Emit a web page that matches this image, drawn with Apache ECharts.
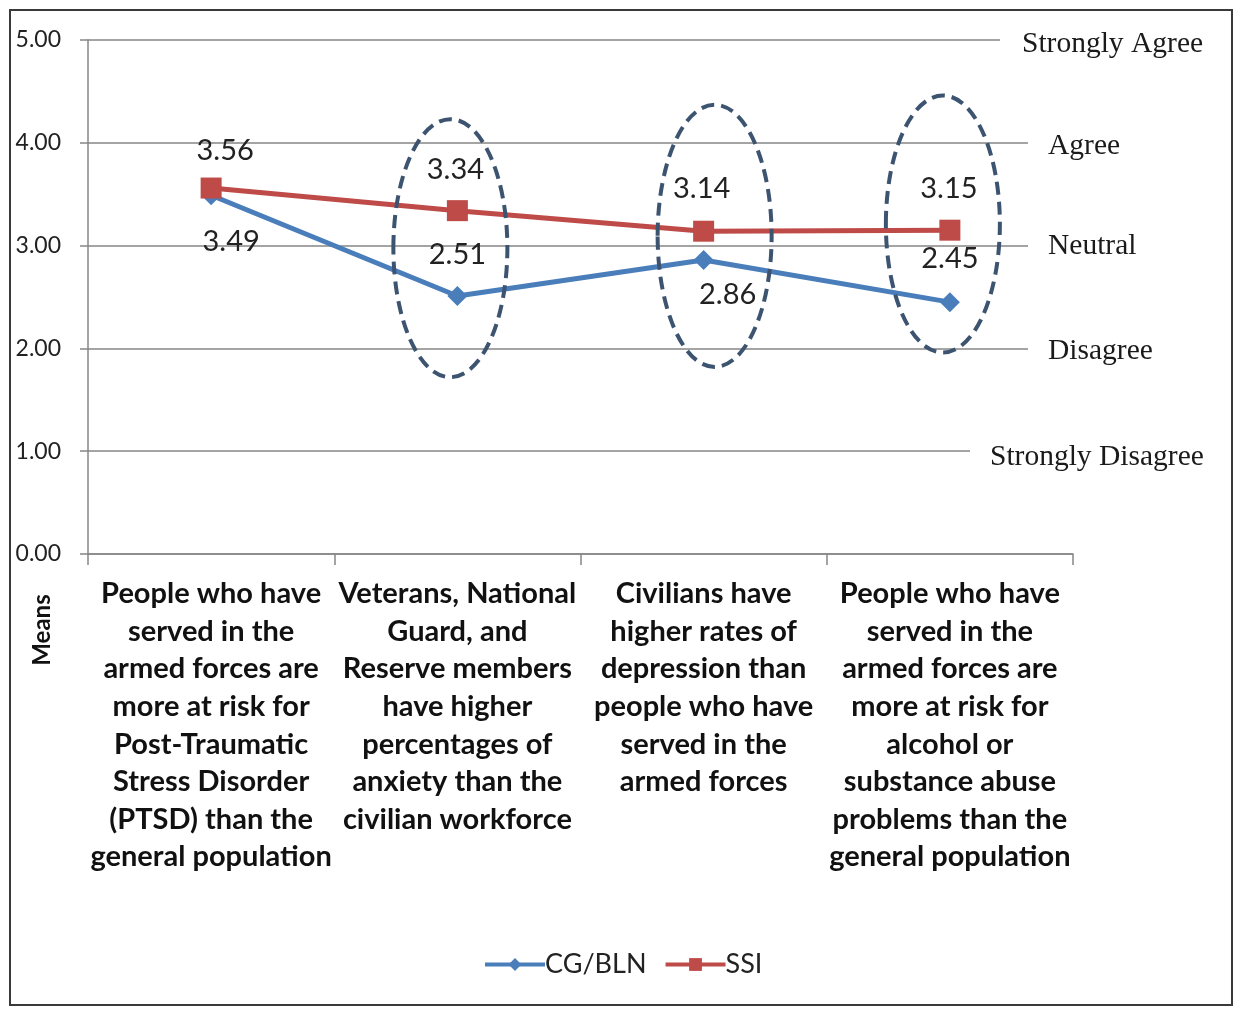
<!DOCTYPE html>
<html><head><meta charset="utf-8">
<script src="https://cdn.jsdelivr.net/npm/echarts@6/dist/echarts.min.js"></script>
<style>html,body{margin:0;padding:0;background:#fff}#c{width:1235px;height:1009px}</style>
</head><body><div id="c"></div>
<script>
const categories = [
  'People who have\nserved in the\narmed forces are\nmore at risk for\nPost-Traumatic\nStress Disorder\n(PTSD) than the\ngeneral population',
  'Veterans, National\nGuard, and\nReserve members\nhave higher\npercentages of\nanxiety than the\ncivilian workforce',
  'Civilians have\nhigher rates of\ndepression than\npeople who have\nserved in the\narmed forces',
  'People who have\nserved in the\narmed forces are\nmore at risk for\nalcohol or\nsubstance abuse\nproblems than the\ngeneral population'
];
const seriesNames = ['CG/BLN', 'SSI'];
const cgBln = [3.49, 2.51, 2.86, 2.45];
const ssi = [3.56, 3.34, 3.14, 3.15];
const yTickValues = [0, 1, 2, 3, 4, 5];
const scaleLabels = ['Strongly Disagree', 'Disagree', 'Neutral', 'Agree', 'Strongly Agree'];
const scaleValues = [1, 2, 3, 4, 5];
const axisName = 'Means';
// highlighted categories (index) with value span of the dashed ellipse
const highlightCats = [1, 2, 3];
const highlightLo = [1.72, 1.82, 1.96];
const highlightHi = [4.23, 4.37, 4.46];

// ---- layout / style (not data) ----
const cgLabelOffset = [[20, 46], [0, -41], [24, 35], [0, -43]];
const ssiLabelOffset = [[14, -37], [-2, -41], [-2, -43], [-1, -42]];
const scaleLineEndX = [970, 1028, 1028, 1028, 1000];
const scaleTextX = [990, 1048, 1048, 1048, 1022];
const scaleTextDy = [6, 3, 1, 3, 4];
const ellipseDx = [-7, 11, -7];
const ellipseRx = 57;

const BLUE = '#4a7ebb', RED = '#be4b48';
const chart = echarts.init(document.getElementById('c'), null, {renderer: 'canvas'});

function mkData(vals, offs) {
  return vals.map((v, i) => ({value: v, label: {offset: offs[i]}}));
}

chart.setOption({
  animation: false,
  backgroundColor: '#fff',
  grid: {left: 88, right: 162, top: 40, bottom: 455, containLabel: false},
  xAxis: {
    type: 'category', data: categories, boundaryGap: true,
    axisLine: {show: true, lineStyle: {color: '#868686', width: 1.5}},
    axisTick: {show: true, length: 11, lineStyle: {color: '#868686', width: 1.5}},
    axisLabel: {interval: 0, margin: 21, color: '#111', fontFamily: 'Lato', fontWeight: 'bold', fontSize: 29, lineHeight: 37.6, align: 'center'},
    splitLine: {show: false}
  },
  yAxis: {
    type: 'value', min: 0, max: 5, interval: 1,
    axisLine: {show: true, lineStyle: {color: '#868686', width: 1.5}},
    axisTick: {show: true, length: 8, lineStyle: {color: '#868686', width: 1.5}},
    axisLabel: {formatter: v => v.toFixed(2), color: '#222', fontFamily: 'Lato', fontSize: 23, margin: 27},
    splitLine: {show: true, lineStyle: {color: '#868686', width: 1.5}}
  },
  legend: {
    data: seriesNames, bottom: 26, left: 478, itemWidth: 60, itemHeight: 16, itemGap: 17,
    lineStyle: {width: 4},
    textStyle: {fontFamily: 'Lato', fontSize: 27, color: '#222', padding: [0, 0, 0, -5]}
  },
  series: [
    {
      name: seriesNames[0], type: 'line', data: mkData(cgBln, cgLabelOffset),
      symbol: 'diamond', symbolSize: 20, lineStyle: {color: BLUE, width: 5}, itemStyle: {color: BLUE},
      label: {show: true, position: 'inside', formatter: p => p.value.toFixed(2), color: '#222', fontFamily: 'Lato', fontSize: 29}
    },
    {
      name: seriesNames[1], type: 'line', data: mkData(ssi, ssiLabelOffset),
      symbol: 'rect', symbolSize: 21, lineStyle: {color: RED, width: 5}, itemStyle: {color: RED},
      label: {show: true, position: 'inside', formatter: p => p.value.toFixed(2), color: '#222', fontFamily: 'Lato', fontSize: 29}
    }
  ]
});

function overlay() {
  const g = [];
  g.push({type: 'rect', shape: {x: 10, y: 10, width: 1222, height: 995}, style: {fill: 'none', stroke: '#3a3a3a', lineWidth: 2}, silent: true, z: 100});
  const right = chart.convertToPixel({xAxisIndex: 0}, categories[categories.length - 1]) + 123;
  scaleValues.forEach((v, i) => {
    const y = chart.convertToPixel({yAxisIndex: 0}, v);
    g.push({type: 'rect', shape: {x: scaleLineEndX[i], y: y - 4, width: right - scaleLineEndX[i] + 4, height: 8}, style: {fill: '#fff'}, z: 50, silent: true});
    g.push({type: 'text', x: scaleTextX[i], y: y + scaleTextDy[i], style: {text: scaleLabels[i], font: '29.5px "Liberation Serif"', fill: '#1a1a1a', verticalAlign: 'middle', align: 'left'}, z: 60, silent: true});
  });
  highlightCats.forEach((c, i) => {
    const cx = chart.convertToPixel({xAxisIndex: 0}, categories[c]) + ellipseDx[i];
    const yTop = chart.convertToPixel({yAxisIndex: 0}, highlightHi[i]);
    const yBot = chart.convertToPixel({yAxisIndex: 0}, highlightLo[i]);
    g.push({type: 'ellipse', shape: {cx: cx, cy: (yTop + yBot) / 2, rx: ellipseRx, ry: (yBot - yTop) / 2},
      style: {fill: 'none', stroke: '#3d5470', lineWidth: 4, lineDash: [13, 7]}, z: 70, silent: true});
  });
  g.push({type: 'text', x: 42, y: 630, rotation: Math.PI / 2, style: {text: axisName, font: 'bold 24px Lato', fill: '#111', align: 'center', verticalAlign: 'middle'}, z: 60});
  chart.setOption({graphic: g});
}
overlay();
</script>
</body></html>
